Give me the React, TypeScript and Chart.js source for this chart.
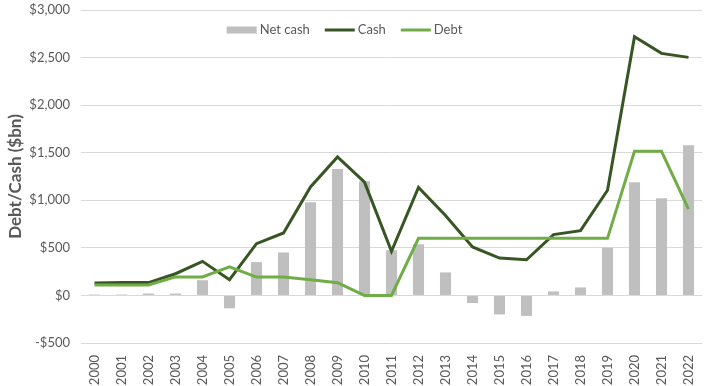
import React, { useEffect, useRef } from "react";
import { Chart, registerables } from "chart.js";

Chart.register(...registerables);

const years = ["2000","2001","2002","2003","2004","2005","2006","2007","2008","2009","2010","2011","2012","2013","2014","2015","2016","2017","2018","2019","2020","2021","2022"];
const netCash = [10, 10, 20, 20, 160, -135, 350, 452, 980, 1330, 1200, 474, 537, 242, -80, -200, -215, 42, 84, 502, 1190, 1021, 1579];
const cash = [130, 135, 135, 228, 358, 165, 544, 656, 1140, 1456, 1190, 463, 1134, 840, 509, 393, 375, 639, 681, 1105, 2719, 2544, 2502];
const debt = [110, 110, 110, 195, 195, 300, 193, 193, 165, 134, 0, 0, 600, 600, 600, 600, 600, 600, 600, 600, 1515, 1515, 908];
const yTicks = [-500, 0, 500, 1000, 1500, 2000, 2500, 3000];

const FONT = "Lato, 'Liberation Sans', sans-serif";
const TEXT = "#595959";

const legendPlugin = {
  id: "customLegend",
  afterDraw(chart: any) {
    const ctx = chart.ctx;
    const ds = chart.data.datasets;
    const swatchW = 30;
    const gapText = 3;
    const gapItem = 15;
    ctx.save();
    ctx.font = `13px ${FONT}`;
    const widths = ds.map((d: any) => ctx.measureText(d.label).width);
    let total = 0;
    widths.forEach((w: number, i: number) => {
      total += swatchW + gapText + w + (i < ds.length - 1 ? gapItem : 0);
    });
    let x = (chart.width - total) / 2 - 9;
    const y = 30;
    ds.forEach((d: any, i: number) => {
      if (d.type === "bar") {
        ctx.fillStyle = d.backgroundColor;
        ctx.fillRect(x, y - 3.5, swatchW, 7);
      } else {
        ctx.strokeStyle = d.borderColor;
        ctx.lineWidth = 3;
        ctx.beginPath();
        ctx.moveTo(x, y);
        ctx.lineTo(x + swatchW, y);
        ctx.stroke();
      }
      ctx.fillStyle = TEXT;
      ctx.textBaseline = "middle";
      ctx.textAlign = "left";
      ctx.fillText(d.label, x + swatchW + gapText, y);
      x += swatchW + gapText + widths[i] + gapItem;
    });
    ctx.restore();
  },
};

export default function App() {
  const ref = useRef<HTMLCanvasElement | null>(null);
  useEffect(() => {
    document.body.style.margin = "0";
    const ctx = ref.current!;
    const chart = new Chart(ctx, {
      data: {
        labels: years,
        datasets: [
          {
            type: "bar",
            label: "Net cash",
            data: netCash,
            backgroundColor: "#bfbfbf",
            borderWidth: 0,
            categoryPercentage: 1,
            barPercentage: 0.41,
            order: 3,
          },
          {
            type: "line",
            label: "Cash",
            data: cash,
            borderColor: "#375623",
            backgroundColor: "#375623",
            borderWidth: 3,
            pointRadius: 0,
            tension: 0,
            order: 2,
          },
          {
            type: "line",
            label: "Debt",
            data: debt,
            borderColor: "#70ad47",
            backgroundColor: "#70ad47",
            borderWidth: 3,
            pointRadius: 0,
            tension: 0,
            order: 1,
          },
        ] as any,
      },
      plugins: [legendPlugin],
      options: {
        animation: false,
        responsive: false,
        maintainAspectRatio: false,
        layout: { padding: { left: 0, right: 5, top: 10, bottom: 0 } },
        plugins: {
          tooltip: { enabled: false },
          legend: { display: false },
        },
        scales: {
          x: {
            grid: { display: false },
            border: { display: false },
            ticks: {
              font: { family: FONT, size: 13 },
              color: TEXT,
              maxRotation: 90,
              minRotation: 90,
              autoSkip: false,
              padding: 4,
            },
            afterFit: (s: any) => {
              s.height = 43;
              s.paddingLeft = 0;
              s.paddingRight = 0;
            },
          },
          y: {
            min: -500,
            max: 3000,
            afterBuildTicks: (s: any) => { s.ticks = yTicks.map((v) => ({ value: v })); },
            grid: { color: "#d9d9d9", lineWidth: 1, drawTicks: false },
            border: { display: false },
            ticks: {
              font: { family: FONT, size: 13 },
              color: TEXT,
              padding: 11,
              callback: (v: any) => (v < 0 ? "-$" : "$") + Math.abs(v).toLocaleString("en-US"),
            },
            title: {
              display: true,
              text: "Debt/Cash ($bn)",
              font: { family: FONT, size: 17, weight: "bold" },
              color: TEXT,
              padding: { top: 5, bottom: 0 },
            },
            afterFit: (s: any) => {
              s.width = 81;
              s.paddingTop = 0;
              s.paddingBottom = 0;
            },
          },
        },
      } as any,
    });
    return () => chart.destroy();
  }, []);
  return (
    <div style={{ width: 707, height: 386 }}>
      <canvas ref={ref} width={707} height={386} style={{ display: "block" }} />
    </div>
  );
}
